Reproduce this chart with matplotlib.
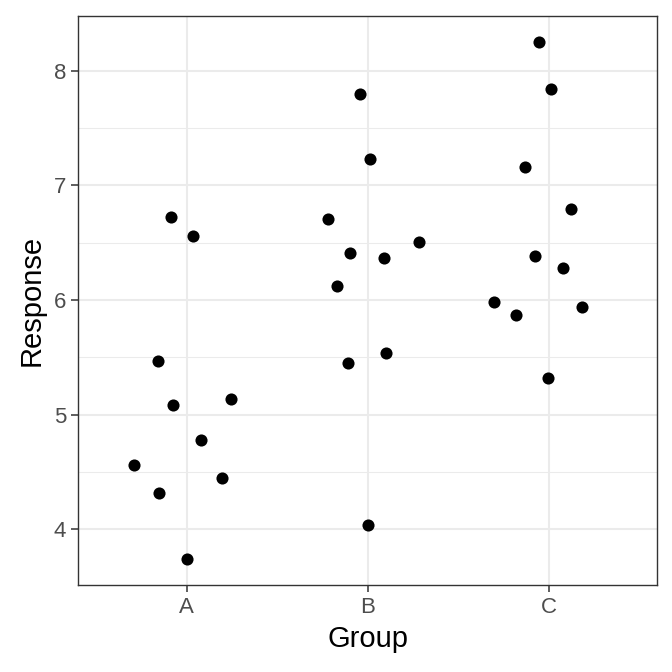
import matplotlib
matplotlib.use("Agg")
import matplotlib.pyplot as plt
from matplotlib.ticker import MultipleLocator

groups = ["A", "B", "C"]

# jittered x positions (1 = A, 2 = B, 3 = C) and responses
x_a = [0.912, 1.033, 0.841, 0.923, 1.247, 1.082, 0.709, 1.198, 0.846, 1.005]
y_a = [6.72, 6.56, 5.47, 5.08, 5.14, 4.78, 4.56, 4.45, 4.32, 3.74]

x_b = [1.956, 2.011, 1.780, 1.901, 2.286, 2.093, 1.830, 2.104, 1.890, 2.000]
y_b = [7.80, 7.23, 6.71, 6.41, 6.51, 6.37, 6.12, 5.54, 5.45, 4.04]

x_c = [2.945, 3.011, 2.868, 3.126, 2.923, 3.077, 2.698, 3.187, 2.819, 2.995]
y_c = [8.25, 7.84, 7.16, 6.79, 6.38, 6.28, 5.98, 5.94, 5.87, 5.32]

plt.rcParams["font.family"] = ["Liberation Sans", "DejaVu Sans"]

fig = plt.figure(figsize=(6.72, 6.72), dpi=100)
ax = fig.add_axes([0.116, 0.1295, 0.862, 0.8465])

xs = x_a + x_b + x_c
ys = y_a + y_b + y_c
ax.scatter(xs, ys, s=76, color="black", linewidths=0, zorder=3)

ax.set_xlim(0.4, 3.6)
lo, hi = min(ys), max(ys)
pad = (hi - lo) * 0.05
ax.set_ylim(lo - pad, hi + pad)

ax.set_xticks([1, 2, 3])
ax.set_xticklabels(groups)
ax.yaxis.set_major_locator(MultipleLocator(1))
ax.yaxis.set_minor_locator(MultipleLocator(0.5))
ax.set_xticks([1.5, 2.5], minor=True)

ax.grid(which="major", color="#EBEBEB", linewidth=1.5, zorder=0)
ax.grid(which="minor", axis="y", color="#EBEBEB", linewidth=0.75, zorder=0)
ax.set_axisbelow(True)

for s in ax.spines.values():
    s.set_color("#333333")
    s.set_linewidth(1.0)

ax.tick_params(which="major", length=5, width=1.1, color="#333333",
               labelcolor="#4D4D4D", labelsize=16, pad=3.5)
ax.tick_params(which="minor", length=0)

ax.set_xlabel("Group", fontsize=21, labelpad=5)
ax.set_ylabel("Response", fontsize=21, labelpad=6)

fig.savefig("out.png", dpi=100)
